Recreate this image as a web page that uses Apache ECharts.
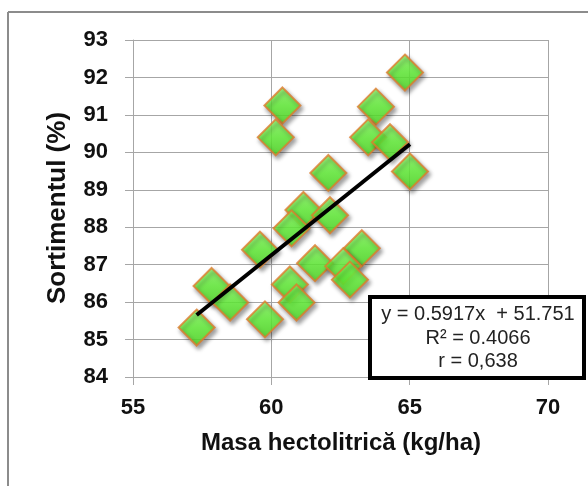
<!DOCTYPE html>
<html>
<head>
<meta charset="utf-8">
<script src="https://cdn.jsdelivr.net/npm/echarts@6/dist/echarts.min.js"></script>
<style>
html,body{margin:0;padding:0;background:#fff;}
#chart{width:588px;height:486px;}
</style>
</head>
<body>
<div id="chart"></div>
<script>
// Data
var masaHectolitrica = [64.83, 60.40, 63.78, 60.16, 63.50, 64.29, 65.01, 62.06, 61.16, 62.12, 60.73, 59.59, 63.27, 61.58, 62.60, 62.84, 60.67, 60.91, 57.84, 58.51, 57.30, 59.77];
var sortimentul      = [92.13, 91.25, 91.22, 90.40, 90.40, 90.27, 89.49, 89.45, 88.46, 88.32, 87.97, 87.40, 87.44, 87.04, 86.96, 86.60, 86.47, 85.99, 86.43, 85.99, 85.32, 85.54];
var trendSlope = 0.5917;
var trendIntercept = 51.751;
var equationLines = ['y = 0.5917x  + 51.751', 'R\u00B2 = 0.4066', 'r = 0,638'];
var xTitle = 'Masa hectolitric\u0103 (kg/ha)';
var yTitle = 'Sortimentul (%)';

var points = masaHectolitrica.map(function (x, i) { return [x, sortimentul[i]]; });
var xMin = Math.min.apply(null, masaHectolitrica);
var xMax = Math.max.apply(null, masaHectolitrica);
var trend = [[xMin, trendSlope * xMin + trendIntercept], [xMax, trendSlope * xMax + trendIntercept]];

var chart = echarts.init(document.getElementById('chart'), null, {renderer: 'canvas'});
var gridColor = '#a6a6a6';
var font = '"Liberation Sans", Arial, sans-serif';

chart.setOption({
  backgroundColor: '#ffffff',
  animation: false,
  grid: {left: 133, right: 40, top: 40, bottom: 109},
  xAxis: {
    type: 'value', min: 55, max: 70, interval: 5,
    axisLine: {show: true, lineStyle: {color: gridColor, width: 1}},
    axisTick: {show: true, length: 8, lineStyle: {color: gridColor}},
    axisLabel: {margin: 20, fontFamily: font, fontWeight: 'bold', fontSize: 22, color: '#111'},
    splitLine: {show: true, lineStyle: {color: gridColor, width: 1}}
  },
  yAxis: {
    type: 'value', min: 84, max: 93, interval: 1,
    axisLine: {show: true, lineStyle: {color: gridColor, width: 1}},
    axisTick: {show: true, length: 8, lineStyle: {color: gridColor}},
    axisLabel: {margin: 25, fontFamily: font, fontWeight: 'bold', fontSize: 22, color: '#111'},
    splitLine: {show: true, lineStyle: {color: gridColor, width: 1}}
  },
  series: [
    {
      type: 'scatter',
      data: points,
      symbol: 'diamond',
      symbolSize: 36,
      z: 2,
      itemStyle: {
        color: new echarts.graphic.LinearGradient(0, 0, 0, 1, [
          {offset: 0, color: '#8cff66'},
          {offset: 0.5, color: '#66f83a'},
          {offset: 1, color: '#4ede22'}
        ]),
        borderColor: '#dd7c2c',
        borderWidth: 2,
        shadowBlur: 4,
        shadowColor: 'rgba(0,0,0,0.45)',
        shadowOffsetX: 2,
        shadowOffsetY: 3
      }
    },
    {
      type: 'line',
      data: trend,
      symbol: 'none',
      z: 5,
      lineStyle: {color: '#000', width: 4}
    }
  ],
  graphic: [
    {type: 'line', shape: {x1: 8, y1: 12, x2: 588, y2: 12}, style: {stroke: '#8c8c8c', lineWidth: 2}},
    {type: 'line', shape: {x1: 8, y1: 12, x2: 8, y2: 486}, style: {stroke: '#8c8c8c', lineWidth: 2}},
    {type: 'text', x: 341, y: 443, style: {text: xTitle, font: 'bold 24px ' + font, fill: '#111', textAlign: 'center', textVerticalAlign: 'middle'}},
    {type: 'text', x: 58, y: 208, rotation: Math.PI / 2, style: {text: yTitle, font: 'bold 26px ' + font, fill: '#111', textAlign: 'center', textVerticalAlign: 'middle'}},
    {type: 'rect', z: 100, shape: {x: 370, y: 297, width: 214, height: 81}, style: {fill: '#fff', stroke: '#000', lineWidth: 4}},
    {type: 'text', z: 101, x: 478, y: 314, style: {text: equationLines[0], font: '20px ' + font, fill: '#222', textAlign: 'center', textVerticalAlign: 'middle'}},
    {type: 'text', z: 101, x: 478, y: 338, style: {text: equationLines[1], font: '20px ' + font, fill: '#222', textAlign: 'center', textVerticalAlign: 'middle'}},
    {type: 'text', z: 101, x: 478, y: 361, style: {text: equationLines[2], font: '20px ' + font, fill: '#222', textAlign: 'center', textVerticalAlign: 'middle'}}
  ]
});
</script>
</body>
</html>
